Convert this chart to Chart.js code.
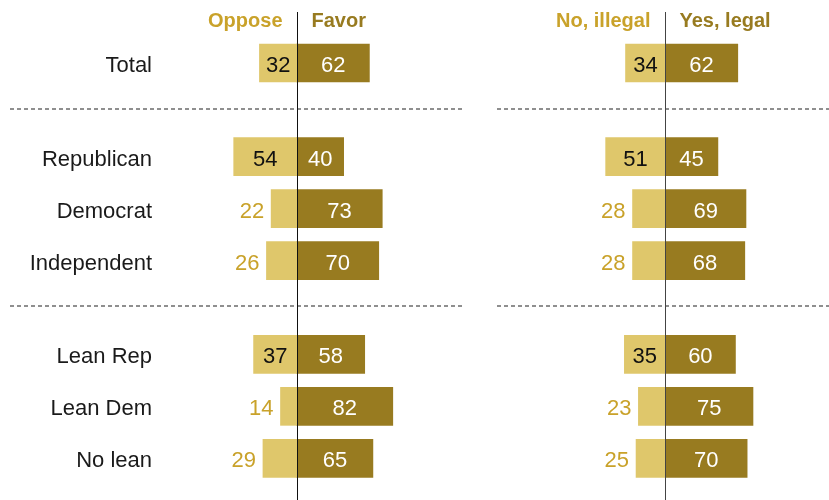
<!DOCTYPE html>
<html>
<head>
<meta charset="utf-8">
<script src="https://cdn.jsdelivr.net/npm/chart.js@4.4.1/dist/chart.umd.min.js"></script>
<style>
  html, body { margin: 0; padding: 0; background: #fff; }
  #wrap { position: relative; width: 829px; height: 500px; overflow: hidden; }
  #c-left { position: absolute; left: 0; top: 0; }
  #c-right { position: absolute; left: 470px; top: 0; }
</style>
</head>
<body>
<div id="wrap">
  <canvas id="c-left" width="470" height="500"></canvas>
  <canvas id="c-right" width="359" height="500"></canvas>
</div>
<script>
// dados
var categories = ["Total", "Republican", "Democrat", "Independent", "Lean Rep", "Lean Dem", "No lean"];
var groupIds = [0, 1, 1, 1, 2, 2, 2];
var oppose = [32, 54, 22, 26, 37, 14, 29];
var favor = [62, 40, 73, 70, 58, 82, 65];
var illegal = [34, 51, 28, 28, 35, 23, 25];
var legal = [62, 45, 69, 68, 60, 75, 70];
var leftHeads = ["Oppose", "Favor"];
var rightHeads = ["No, illegal", "Yes, legal"];

(function () {
  "use strict";
  var CLARO = "#dfc76b", ESCURO = "#987b20";
  var OURO_TXT = "#c9a22a", FONTE = "'Liberation Sans', Arial, sans-serif";
  var GAP = 0.8; // espaço extra entre grupos, em linhas

  // posição de cada linha no eixo y (linhas + folga entre grupos)
  var pos = categories.map(function (c, i) { return i + groupIds[i] * GAP; });
  var seps = [];
  for (var i = 1; i < pos.length; i++) {
    if (groupIds[i] !== groupIds[i - 1]) seps.push((pos[i] + pos[i - 1]) / 2);
  }

  function pontos(vals, sinal) {
    return vals.map(function (v, i) { return { x: sinal * v, y: pos[i] }; });
  }

  function rotulos(heads, sepX0, sepX1, corLinha) {
    return {
      id: "rotulos",
      afterDatasetsDraw: function (chart) {
        var ctx = chart.ctx, xa = chart.scales.x, ya = chart.scales.y;
        var zero = Math.round(xa.getPixelForValue(0)) + 0.5;
        ctx.save();
        // separadores pontilhados
        ctx.strokeStyle = "#8f8f8f"; ctx.lineWidth = 2; ctx.setLineDash([4, 3]);
        seps.forEach(function (s) {
          var py = Math.round(ya.getPixelForValue(s)) - 1;
          ctx.beginPath(); ctx.moveTo(sepX0, py); ctx.lineTo(sepX1, py); ctx.stroke();
        });
        ctx.setLineDash([]);
        // linha central
        ctx.strokeStyle = corLinha; ctx.lineWidth = 1;
        ctx.beginPath(); ctx.moveTo(zero, 12); ctx.lineTo(zero, chart.height); ctx.stroke();
        // cabeçalhos
        ctx.font = "bold 20px " + FONTE; ctx.textBaseline = "middle";
        ctx.fillStyle = OURO_TXT; ctx.textAlign = "right";
        ctx.fillText(heads[0], zero - 15, 21);
        ctx.fillStyle = ESCURO; ctx.textAlign = "left";
        ctx.fillText(heads[1], zero + 14, 21);
        // valores
        ctx.font = "22px " + FONTE;
        var m0 = chart.getDatasetMeta(0), m1 = chart.getDatasetMeta(1);
        var d0 = chart.data.datasets[0].data, d1 = chart.data.datasets[1].data;
        m0.data.forEach(function (bar, k) {
          var v = Math.abs(d0[k].x);
          if (v >= 30) {
            ctx.fillStyle = "#111"; ctx.textAlign = "center";
            ctx.fillText(v, (bar.x + bar.base) / 2, bar.y + 3);
          } else {
            ctx.fillStyle = OURO_TXT; ctx.textAlign = "right";
            ctx.fillText(v, bar.x - 7, bar.y + 3);
          }
        });
        m1.data.forEach(function (bar, k) {
          ctx.fillStyle = "#fff"; ctx.textAlign = "center";
          ctx.fillText(d1[k].x, (bar.x + bar.base) / 2, bar.y + 3);
        });
        ctx.restore();
      }
    };
  }

  function grafico(id, neg, posv, heads, xmin, xmax, comEixo, sepX0, sepX1, corLinha) {
    return new Chart(document.getElementById(id), {
      type: "bar",
      data: {
        datasets: [
          { data: pontos(neg, -1), backgroundColor: CLARO, grouped: false, barThickness: 38 },
          { data: pontos(posv, 1), backgroundColor: ESCURO, grouped: false, barThickness: 38 }
        ]
      },
      plugins: [rotulos(heads, sepX0, sepX1, corLinha)],
      options: {
        indexAxis: "y",
        responsive: false,
        devicePixelRatio: 1,
        animation: false,
        layout: { padding: 0, autoPadding: false },
        scales: {
          x: { type: "linear", min: xmin, max: xmax, display: false, offset: false },
          y: {
            type: "linear", reverse: true, min: -1.21, max: 8.4,
            offset: false,
            display: comEixo,
            grid: { display: false, drawTicks: false },
            border: { display: false },
            afterBuildTicks: function (s) { s.ticks = pos.map(function (p) { return { value: p }; }); },
            afterFit: function (s) { s.width = comEixo ? 160 : 0; s.paddingTop = 0; s.paddingBottom = 0; },
            ticks: {
              padding: 8,
              labelOffset: 3,
              color: "#1a1a1a",
              font: { family: FONTE, size: 22 },
              callback: function (v) { return categories[pos.indexOf(v)]; }
            }
          }
        },
        plugins: { legend: { display: false }, tooltip: { enabled: false } }
      }
    });
  }

  grafico("c-left", oppose, favor, leftHeads, -117, 148, true, 10, 465, "#111");
  grafico("c-right", illegal, legal, rightHeads, -167, 140, false, 27, 359, "#444");
})();
</script>
</body>
</html>
